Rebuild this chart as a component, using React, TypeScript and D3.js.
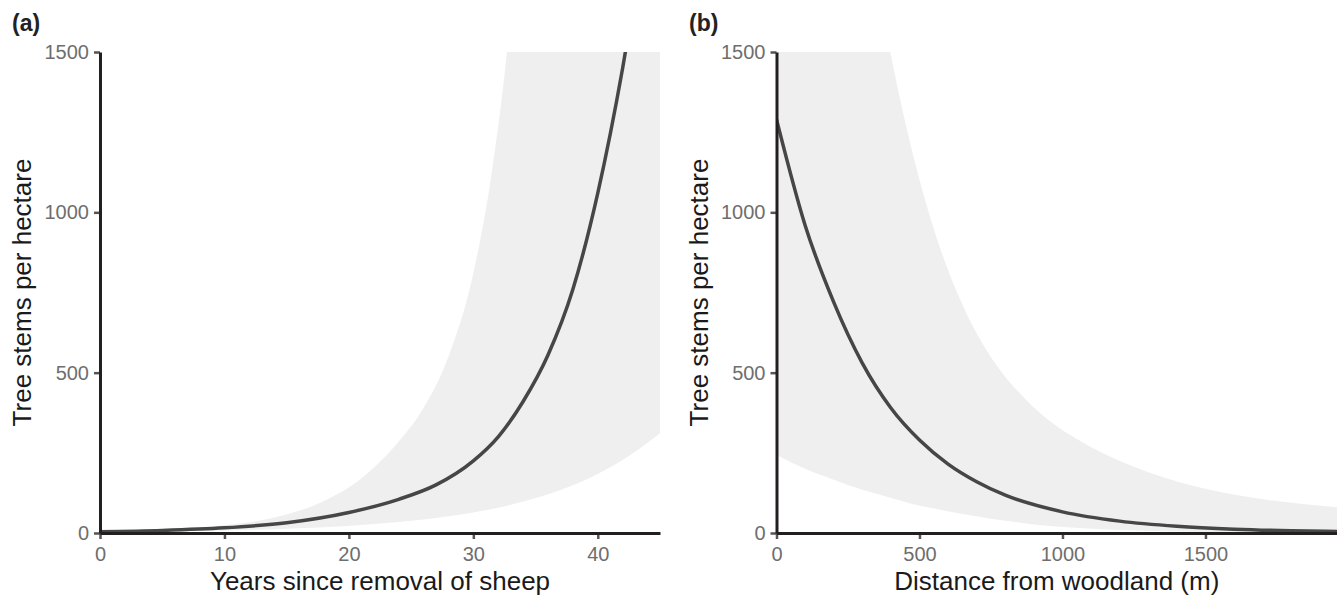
import React, { useEffect, useRef } from 'react'
import * as d3 from 'd3'

// panel (a): years since removal of sheep
const yearsFit = [0, 5, 10, 15, 20, 24, 27, 30, 32, 34, 36, 38, 40, 42, 43]
const stemsFitA = [4, 8, 16, 32, 64, 105, 150, 225, 300, 410, 555, 760, 1060, 1450, 1680]

const yearsBand = [0, 5, 10, 14, 18, 21, 24, 26, 28, 30, 31.5, 32.7, 34, 37, 40, 42.5, 45]
const lowA = [2, 5, 8, 12, 18, 25, 34, 42, 52, 64, 75, 85, 98, 134, 184, 240, 311]
const highA = [5, 10.5, 24, 48, 100, 170, 285, 390, 550, 810, 1130, 1500, 2100, 3500, 6000, 9000, 15000]

// panel (b): distance from woodland (m)
const distFit = [0, 100, 200, 300, 400, 500, 600, 700, 800, 1000, 1200, 1400, 1600, 1800, 1960]
const stemsFitB = [1290, 960, 720, 530, 390, 290, 215, 160, 118, 66, 37, 21, 12, 7, 5]

const distBand = [0, 100, 200, 300, 398, 465, 546, 651, 756, 873, 977, 1085, 1305, 1515, 1737, 1960]
const lowB = [243, 200, 166, 135, 110, 93, 77, 59, 44, 30, 20, 14, 6, 3, 2, 1]
const highB = [4900, 3650, 2700, 2010, 1500, 1225, 960, 710, 540, 415, 335, 275, 188, 135, 101, 80]

const yTicks = [0, 500, 1000, 1500]
const xTicksA = [0, 10, 20, 30, 40]
const xTicksB = [0, 500, 1000, 1500]

const W = 1337
const H = 595
const top = 52
const bottom = 533
const font = '"Liberation Sans", Arial, Helvetica, sans-serif'

const App = () => {
  const svgRef = useRef<SVGSVGElement | null>(null)

  useEffect(() => {
    const svg = d3.select(svgRef.current)
    svg.selectAll('*').remove()

    const yScale = d3.scaleLinear().domain([0, 1500]).range([bottom, top])

    const panels = [
      {
        id: 'a',
        label: '(a)',
        labelX: 12,
        left: 100,
        right: 660,
        domain: [0, 45],
        xTicks: xTicksA,
        fitX: yearsFit,
        fitY: stemsFitA,
        bandX: yearsBand,
        low: lowA,
        high: highA,
        xTitle: 'Years since removal of sheep',
        yTitleX: 31,
      },
      {
        id: 'b',
        label: '(b)',
        labelX: 689,
        left: 776.5,
        right: 1337,
        domain: [0, 1960],
        xTicks: xTicksB,
        fitX: distFit,
        fitY: stemsFitB,
        bandX: distBand,
        low: lowB,
        high: highB,
        xTitle: 'Distance from woodland (m)',
        yTitleX: 708,
      },
    ]

    panels.forEach((p) => {
      const xScale = d3.scaleLinear().domain(p.domain).range([p.left, p.right])

      svg
        .append('clipPath')
        .attr('id', `clip-${p.id}`)
        .append('rect')
        .attr('x', p.left)
        .attr('y', top)
        .attr('width', p.right - p.left)
        .attr('height', bottom - top)

      const g = svg.append('g').attr('clip-path', `url(#clip-${p.id})`)

      // confidence band
      const area = d3
        .area<number>()
        .x((d, i) => xScale(p.bandX[i]))
        .y0((d, i) => yScale(p.low[i]))
        .y1((d, i) => yScale(p.high[i]))
        .curve(d3.curveMonotoneX)
      g.append('path').attr('d', area(p.bandX)).attr('fill', '#efefef')

      // fitted curve
      const line = d3
        .line<number>()
        .x((d, i) => xScale(p.fitX[i]))
        .y((d, i) => yScale(p.fitY[i]))
        .curve(d3.curveMonotoneX)
      g.append('path')
        .attr('d', line(p.fitX))
        .attr('fill', 'none')
        .attr('stroke', '#464646')
        .attr('stroke-width', 3.5)

      // axes
      const xAxis = d3
        .axisBottom(xScale)
        .tickValues(p.xTicks)
        .tickFormat(d3.format('d'))
        .tickSize(6)
        .tickSizeOuter(0)
        .tickPadding(8)
      const yAxis = d3
        .axisLeft(yScale)
        .tickValues(yTicks)
        .tickFormat(d3.format('d'))
        .tickSize(6)
        .tickSizeOuter(0)
        .tickPadding(5)

      const gx = svg.append('g').attr('transform', `translate(0, ${bottom})`).call(xAxis)
      const gy = svg.append('g').attr('transform', `translate(${p.left}, 0)`).call(yAxis)

      ;[gx, gy].forEach((ax) => {
        ax.select('.domain').attr('stroke', '#231f20').attr('stroke-width', 3)
        ax.selectAll('.tick line').attr('stroke', '#555').attr('stroke-width', 2.5)
        ax.selectAll('.tick text')
          .attr('fill', '#6e6e6e')
          .style('font-family', font)
          .style('font-size', '20px')
      })
      gx.select('.domain').raise()
      gy.select('.domain').raise()

      // titles
      svg
        .append('text')
        .attr('x', (p.left + p.right) / 2)
        .attr('y', 590)
        .attr('text-anchor', 'middle')
        .attr('fill', '#1a1a1a')
        .style('font-family', font)
        .style('font-size', '26px')
        .text(p.xTitle)

      svg
        .append('text')
        .attr('transform', `translate(${p.yTitleX}, ${(top + bottom) / 2}) rotate(-90)`)
        .attr('text-anchor', 'middle')
        .attr('fill', '#1a1a1a')
        .style('font-family', font)
        .style('font-size', '26px')
        .text('Tree stems per hectare')

      svg
        .append('text')
        .attr('x', p.labelX)
        .attr('y', 31)
        .attr('fill', '#222')
        .style('font-family', font)
        .style('font-size', '23px')
        .style('font-weight', 'bold')
        .text(p.label)
    })
  }, [])

  return (
    <svg
      ref={svgRef}
      width={W}
      height={H}
      style={{ position: 'absolute', left: 0, top: 0, background: '#fff' }}
    ></svg>
  )
}

export default App
